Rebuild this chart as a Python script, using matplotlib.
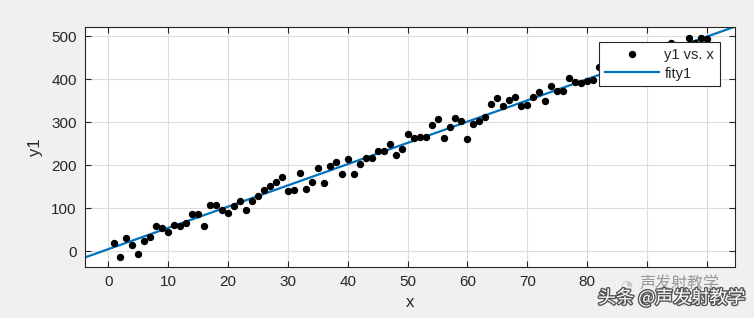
import matplotlib.pyplot as plt
import matplotlib.patheffects as pe
import numpy as np

plt.rcParams['font.family'] = ['Liberation Sans', 'Noto Sans CJK SC', 'DejaVu Sans']

x = list(range(1, 101))
y1 = [19, -13, 31, 14, -6, 24, 33, 58, 53, 45,
      61, 58, 66, 86, 87, 59, 107, 107, 95, 89,
      104, 116, 95, 116, 128, 142, 152, 161, 173, 139,
      142, 183, 145, 160, 194, 158, 198, 208, 180, 215,
      180, 202, 218, 218, 233, 234, 250, 225, 239, 273,
      264, 265, 265, 293, 308, 264, 290, 310, 304, 262,
      295, 304, 312, 342, 357, 339, 351, 360, 339, 341,
      359, 370, 349, 384, 374, 373, 403, 394, 391, 396,
      399, 428, 412, 405, 420, 428, 410, 436, 442, 428,
      448, 452, 442, 484, 462, 470, 497, 485, 497, 494]

# poly1 fit coefficients
fit_p = [4.95, 4.6]

xticks = [0, 10, 20, 30, 40, 50, 60, 70, 80, 90, 100]
yticks = [0, 100, 200, 300, 400, 500]

bg = '#f0f0f0'
fig = plt.figure(figsize=(7.54, 3.18), dpi=100, facecolor=bg)
ax = fig.add_axes([85 / 754, 1 - 267 / 318, 650 / 754, 240 / 318])

xlim = (-3.9, 104.7)
ax.plot(x, y1, 'o', color='black', ms=4.3, label='y1 vs. x', zorder=3)
xf = np.array(xlim)
ax.plot(xf, np.polyval(fit_p, xf), color='#0072BD', lw=1.6, label='fity1', zorder=2)

ax.set_xlim(xlim)
ax.set_ylim(-37, 522)
ax.set_xticks(xticks)
ax.set_yticks(yticks)
ax.grid(True, color='#dcdcdc', lw=0.8)
ax.set_axisbelow(True)
ax.tick_params(direction='in', top=True, right=True, length=4, color='#262626',
               labelcolor='#262626', labelsize=11, pad=6)
for s in ax.spines.values():
    s.set_color('#262626')
    s.set_linewidth(0.8)

ax.set_xlabel('x', fontsize=12, color='#262626', labelpad=4)
ax.set_ylabel('y1', fontsize=12, color='#262626', labelpad=6)

leg = ax.legend(loc='upper right', bbox_to_anchor=(0.977, 0.936), borderaxespad=0,
                fancybox=False, edgecolor='#262626', framealpha=1, fontsize=10.5,
                handlelength=3.7, handletextpad=0.4, borderpad=0.4,
                labelspacing=0.3)
leg.get_frame().set_linewidth(0.8)
for t in leg.get_texts():
    t.set_color('#262626')

# watermark, its patch hides the last tick labels like in the reference
fig.patches.append(plt.Rectangle((612 / 754, 1 - 293 / 318), 135 / 754, 21 / 318,
                                 transform=fig.transFigure, facecolor=bg,
                                 edgecolor='none', zorder=5))
fig.text(620 / 754, 1 - 285 / 318, '◔', fontsize=10, color='#c8c8c8',
         ha='left', va='center', family=['DejaVu Sans'], zorder=6)
fig.text(640 / 754, 1 - 284 / 318, '声发射教学', fontsize=11.5, color='#999999',
         ha='left', va='center', family=['Noto Sans CJK SC'], zorder=6)
fig.text(0.988, 1 - 298 / 318, '头条 @声发射教学', fontsize=13, color='white',
         ha='right', va='center', family=['Noto Sans CJK SC'], zorder=7,
         path_effects=[pe.withStroke(linewidth=2, foreground='#555555')])

fig.savefig('out.png', dpi=100, facecolor=fig.get_facecolor())
